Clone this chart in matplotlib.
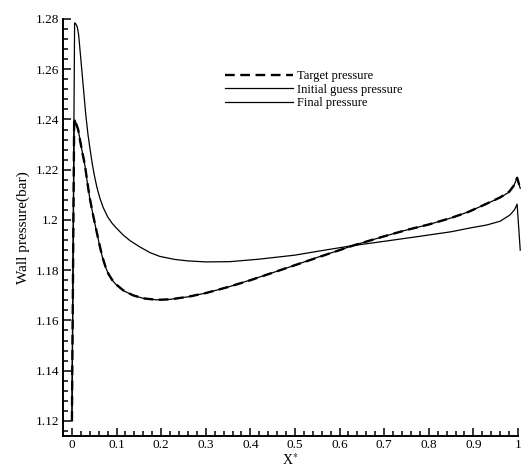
import matplotlib
matplotlib.use('Agg')
import matplotlib.pyplot as plt
from matplotlib.ticker import MultipleLocator

plt.rcParams['font.family'] = ['Liberation Serif', 'DejaVu Serif']
plt.rcParams['mathtext.fontset'] = 'stix'
plt.rcParams['lines.scale_dashes'] = False

# target wall pressure (bar) along X*
x_target = [0.000, 0.005, 0.007, 0.010, 0.014, 0.018, 0.022, 0.029, 0.035,
            0.040, 0.048, 0.055, 0.062, 0.068, 0.075, 0.082, 0.090, 0.100,
            0.115, 0.137, 0.160, 0.190, 0.220, 0.260, 0.300, 0.350, 0.400,
            0.450, 0.500, 0.550, 0.600, 0.630, 0.700, 0.750, 0.800, 0.850,
            0.890, 0.930, 0.960, 0.980, 0.990, 0.998, 1.005]
p_target = [1.120, 1.239, 1.240, 1.238, 1.236, 1.232, 1.228, 1.222, 1.2145,
            1.2087, 1.2015, 1.1957, 1.1900, 1.1855, 1.1815, 1.1785, 1.1762, 1.1742,
            1.1720, 1.1700, 1.1688, 1.1682, 1.1684, 1.1694, 1.1709, 1.1733, 1.1760,
            1.1790, 1.1820, 1.1850, 1.1880, 1.1898, 1.1935, 1.1960, 1.1982, 1.2008,
            1.2033, 1.2065, 1.2090, 1.2112, 1.2135, 1.2168, 1.2126]

# final (optimised) pressure, practically on top of the target
x_final = x_target
p_final = [1.120, 1.2392, 1.2398, 1.2382, 1.2358, 1.2322, 1.2282, 1.2218, 1.2143,
           1.2086, 1.2014, 1.1956, 1.1899, 1.1854, 1.1814, 1.1784, 1.1761, 1.1741,
           1.1719, 1.1700, 1.1688, 1.1682, 1.1684, 1.1694, 1.1709, 1.1733, 1.1761,
           1.1790, 1.1820, 1.1851, 1.1880, 1.1898, 1.1935, 1.1960, 1.1982, 1.2008,
           1.2033, 1.2065, 1.2089, 1.2111, 1.2134, 1.2167, 1.2126]

# initial guess pressure
x_initial = [0.000, 0.006, 0.009, 0.012, 0.015, 0.020, 0.025, 0.031, 0.036,
             0.040, 0.045, 0.050, 0.056, 0.063, 0.070, 0.080, 0.090, 0.100,
             0.115, 0.130, 0.152, 0.175, 0.197, 0.230, 0.260, 0.300, 0.354,
             0.420, 0.500, 0.560, 0.630, 0.700, 0.780, 0.850, 0.892, 0.930,
             0.960, 0.982, 0.992, 0.998, 1.005]
p_initial = [1.120, 1.2785, 1.2780, 1.2768, 1.2738, 1.2640, 1.2540, 1.2420, 1.2340,
             1.2290, 1.2230, 1.2180, 1.2130, 1.2085, 1.2050, 1.2013, 1.1987, 1.1967,
             1.1940, 1.1918, 1.1893, 1.1870, 1.1855, 1.1843, 1.1837, 1.1833, 1.1834,
             1.1844, 1.1860, 1.1878, 1.1898, 1.1915, 1.1935, 1.1953, 1.1968, 1.1980,
             1.1995, 1.2020, 1.2040, 1.2063, 1.1880]

fig = plt.figure(figsize=(5.25, 4.70), dpi=100)
ax = fig.add_axes([63 / 525, 34 / 470, 455 / 525, 417 / 470])

ax.plot(x_initial, p_initial, color='black', lw=0.9, clip_on=False,
        label='Initial guess pressure', zorder=2)
ax.plot(x_target, p_target, color='black', lw=1.7, dashes=(7, 4), clip_on=False,
        label='Target pressure', zorder=3)
ax.plot(x_final, p_final, color='black', lw=0.9, clip_on=False,
        label='Final pressure', zorder=4)

ax.set_xlim(-0.02, 1.0)
ax.set_ylim(1.114, 1.28)

ax.xaxis.set_major_locator(MultipleLocator(0.1))
ax.xaxis.set_minor_locator(MultipleLocator(0.02))
ax.yaxis.set_major_locator(MultipleLocator(0.02))
ax.yaxis.set_minor_locator(MultipleLocator(0.004))
ax.xaxis.set_major_formatter(plt.FuncFormatter(lambda v, p: f'{v:g}'))
ax.yaxis.set_major_formatter(plt.FuncFormatter(lambda v, p: f'{v:g}'))

for side in ['top', 'right']:
    ax.spines[side].set_visible(False)
for side in ['left', 'bottom']:
    ax.spines[side].set_linewidth(1.4)

ax.tick_params(which='both', direction='in', width=1.1, labelsize=9.5,
               top=False, right=False)
ax.tick_params(which='major', length=6)
ax.tick_params(which='minor', length=3.5)
ax.tick_params(axis='x', pad=2.5)
ax.tick_params(axis='y', pad=3)

ax.set_xlabel('X$^{*}$', fontsize=10, labelpad=0.5)
ax.set_ylabel('Wall pressure(bar)', fontsize=11, labelpad=4)

handles, labels = ax.get_legend_handles_labels()
order = [1, 0, 2]
ax.legend([handles[i] for i in order], [labels[i] for i in order],
          loc='upper left', bbox_to_anchor=(0.355, 0.877), frameon=False,
          fontsize=9, handlelength=5.5, handletextpad=0.3, labelspacing=0.12,
          borderpad=0, borderaxespad=0)

fig.savefig('out.png', dpi=100)
